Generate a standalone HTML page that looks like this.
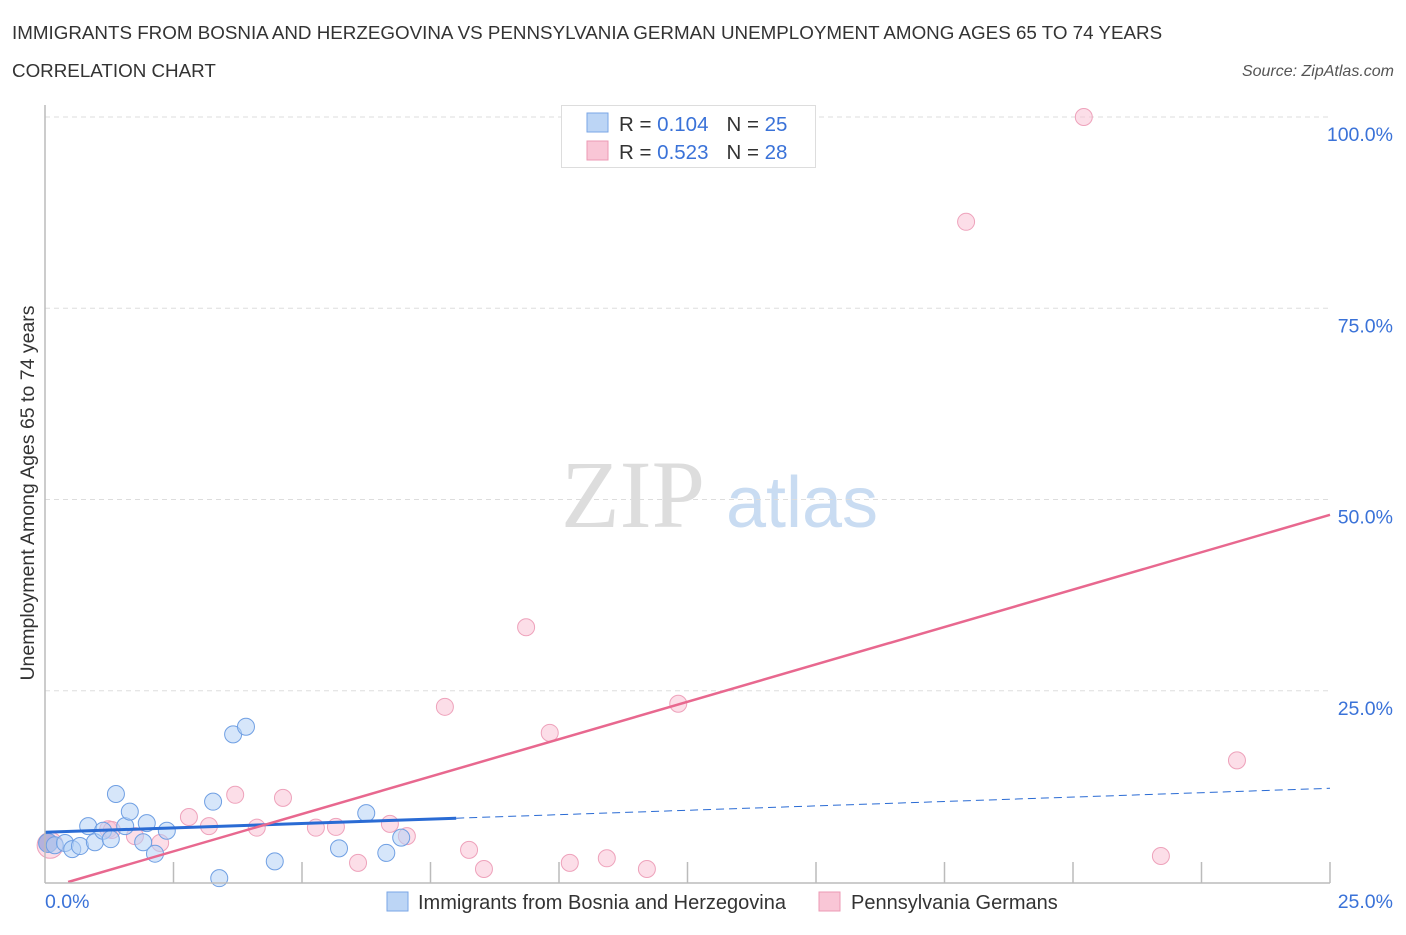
<!DOCTYPE html>
<html><head><meta charset="utf-8"><style>
body{margin:0;background:#fff;font-family:"Liberation Sans",sans-serif;}
</style></head><body>
<svg id="chart" width="1406" height="930" xmlns="http://www.w3.org/2000/svg">
<text x="12" y="39" font-size="18.8" fill="#333">IMMIGRANTS FROM BOSNIA AND HERZEGOVINA VS PENNSYLVANIA GERMAN UNEMPLOYMENT AMONG AGES 65 TO 74 YEARS</text>
<text x="12" y="77" font-size="18.8" fill="#333">CORRELATION CHART</text>
<text x="1394" y="76" font-size="16" fill="#555" font-style="italic" text-anchor="end">Source: ZipAtlas.com</text>
<text x="633" y="527" font-size="96" fill="#ddd" font-family="Liberation Serif,serif" text-anchor="middle">ZIP</text>
<text x="802" y="527" font-size="72" fill="#c9dcf2" text-anchor="middle">atlas</text>
<text transform="translate(34,493) rotate(-90)" font-size="19.5" fill="#333" text-anchor="middle">Unemployment Among Ages 65 to 74 years</text>
<g id="grid"></g><g id="pts"></g><g id="lines"></g>
<line x1="45" y1="105" x2="45" y2="883" stroke="#bbb" stroke-width="1.5"/>
<line x1="45" y1="883" x2="1330" y2="883" stroke="#bbb" stroke-width="1.5"/>
<text x="45" y="908" font-size="19.5" fill="#3a72d8">0.0%</text>
<text x="1393" y="908" font-size="19.5" fill="#3a72d8" text-anchor="end">25.0%</text>
<g>
<rect x="561.5" y="105.5" width="254" height="62" fill="#fff" stroke="#ddd"/>
<rect x="587" y="113" width="21" height="19" fill="#bcd5f5" stroke="#7aa6e6"/>
<rect x="587" y="141" width="21" height="19" fill="#f9c6d6" stroke="#ec9ab4"/>
<text x="619" y="131" font-size="20.5" fill="#333">R = <tspan fill="#3a72d8">0.104</tspan><tspan dx="18">N = </tspan><tspan fill="#3a72d8">25</tspan></text>
<text x="619" y="159" font-size="20.5" fill="#333">R = <tspan fill="#3a72d8">0.523</tspan><tspan dx="18">N = </tspan><tspan fill="#3a72d8">28</tspan></text>
</g>
<g>
<rect x="387" y="892" width="21" height="19" fill="#bcd5f5" stroke="#7aa6e6"/>
<text x="418" y="909" font-size="20" fill="#333">Immigrants from Bosnia and Herzegovina</text>
<rect x="819" y="892" width="21" height="19" fill="#f9c6d6" stroke="#ec9ab4"/>
<text x="851" y="909" font-size="20" fill="#333">Pennsylvania Germans</text>
</g>
</svg>
<script>
const yTicks=[25,50,75,100];
const yTickLabels=["25.0%","50.0%","75.0%","100.0%"];
const xTicks=[2.5,5,7.5,10,12.5,15,17.5,20,22.5,25];
const blueX=[0.06,0.19,0.39,0.53,0.68,0.84,0.97,1.13,1.28,1.38,1.56,1.65,1.91,1.98,2.14,2.37,3.27,3.39,3.66,3.91,4.47,5.72,6.25,6.64,6.93];
const blueY=[5.1,4.8,5.1,4.3,4.7,7.3,5.2,6.7,5.6,11.5,7.3,9.2,5.2,7.7,3.7,6.7,10.5,0.5,19.3,20.3,2.7,4.4,9.0,3.8,5.8];
const pinkX=[0.1,1.23,1.3,1.75,2.24,2.8,3.19,3.7,4.12,4.63,5.27,5.66,6.09,6.71,7.04,7.78,8.25,8.54,9.36,9.82,10.21,10.93,11.71,12.32,17.92,20.21,21.71,23.19];
const pinkY=[4.8,6.9,6.8,6.0,5.1,8.5,7.3,11.4,7.1,11.0,7.1,7.2,2.5,7.6,6.0,22.9,4.2,1.7,33.3,19.5,2.5,3.1,1.7,23.3,86.3,100,3.4,15.9];
const blueTrend=[6.5,0.23];   // intercept, slope
const blueSolidEnd=8;
const pinkTrend=[-0.88,1.955];
const NS="http://www.w3.org/2000/svg";
const sx=v=>45+v*51.4, sy=v=>882-v*7.65;
function mk(t,a,p){const e=document.createElementNS(NS,t);for(const k in a)e.setAttribute(k,a[k]);document.getElementById(p).appendChild(e);return e;}
yTicks.forEach((t,i)=>{
 const l=mk('line',{x1:45,x2:1330,y1:sy(t),y2:sy(t),stroke:'#ddd','stroke-dasharray':'5,4'},'grid');
 
 
 const tx=mk('text',{x:1393,y:sy(t)+24,'font-size':19.5,fill:'#3a72d8','text-anchor':'end'},'grid');
 tx.textContent=yTickLabels[i];
 
 
});
xTicks.forEach(t=>{
 const l=mk('line',{x1:sx(t),x2:sx(t),y1:862,y2:883,stroke:'#bbb','stroke-width':1.5},'grid');
 
 
});
pinkX.forEach((x,i)=>{
 const c=mk('circle',{cx:sx(x),cy:sy(pinkY[i]),r:i==0?13:8.5,fill:'rgba(249,190,210,0.5)',stroke:'#eea2bb','stroke-width':1},'pts');
 
 
});
blueX.forEach((x,i)=>{
 const c=mk('circle',{cx:sx(x),cy:sy(blueY[i]),r:i==0?9.5:8.5,fill:i==0?'rgba(120,140,210,0.55)':'rgba(180,210,245,0.55)',stroke:'#6f9fe3','stroke-width':1},'pts');
 
 
});
const bf=x=>blueTrend[0]+blueTrend[1]*x, pf=x=>pinkTrend[0]+pinkTrend[1]*x;
let l1=mk('line',{x1:sx(0),y1:sy(bf(0)),x2:sx(blueSolidEnd),y2:sy(bf(blueSolidEnd)),stroke:'#2a6bd4','stroke-width':3},'lines');


let l2=mk('line',{x1:sx(blueSolidEnd),y1:sy(bf(blueSolidEnd)),x2:sx(25),y2:sy(bf(25)),stroke:'#2a6bd4','stroke-width':1,'stroke-dasharray':'8,5'},'lines');


const x0=-pinkTrend[0]/pinkTrend[1];
let l3=mk('line',{x1:sx(x0),y1:sy(0),x2:sx(25),y2:sy(pf(25)),stroke:'#e8688f','stroke-width':2.5},'lines');


</script>
</body></html>
